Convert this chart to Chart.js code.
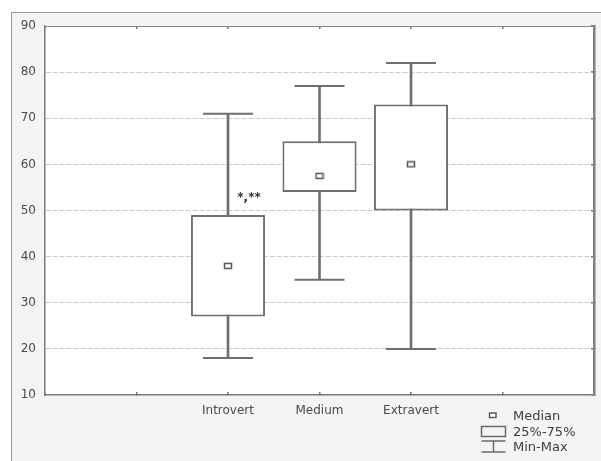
<!DOCTYPE html>
<html>
<head>
<meta charset="utf-8">
<script src="https://cdn.jsdelivr.net/npm/chart.js@4/dist/chart.umd.min.js"></script>
<style>
    body { margin: 0; background: #ffffff; }
    #wrap { position: relative; width: 601px; height: 461px; overflow: hidden; }
    #panel { position: absolute; left: 11px; top: 12px; width: 590px; height: 449px;
             background: #f4f4f4; border-left: 1px solid #9c9c9c; border-top: 1px solid #9c9c9c; }
    #boxChart { position: absolute; left: 0; top: 0; }
    #legendIcons { position: absolute; left: 480px; top: 409px; }
    #legendText { position: absolute; left: 513px; top: 408px; font: 13px "DejaVu Sans", sans-serif;
                  color: #3c3c3c; line-height: 15.5px; }
</style>
</head>
<body>
<div id="wrap">
    <div id="panel"></div>
    <canvas id="boxChart" width="601" height="461"></canvas>
    <svg id="legendIcons" width="28" height="46">
        <rect x="9.5" y="4" width="6.5" height="4.5" fill="#fff" stroke="#555" stroke-width="1.4"></rect>
        <rect x="1.5" y="17.5" width="24" height="10" fill="none" stroke="#6a6a6a" stroke-width="1.5"></rect>
        <line x1="1.5" y1="32" x2="25.5" y2="32" stroke="#6a6a6a" stroke-width="1.5"></line>
        <line x1="13.5" y1="32" x2="13.5" y2="43" stroke="#6a6a6a" stroke-width="1.5"></line>
        <line x1="1.5" y1="43" x2="25.5" y2="43" stroke="#6a6a6a" stroke-width="1.5"></line>
    </svg>
    <div id="legendText">
        <div>Median</div>
        <div>25%-75%</div>
        <div>Min-Max</div>
    </div>
</div>
<script>
// groups shown on the x axis (two empty slots on each side, as in the original)
var categories = ['Introvert', 'Medium', 'Extravert'];
var axisSlots = ['', ''].concat(categories, ['', '']);

// box plot values per group
var minValues = [18, 35, 20];
var q1Values = [27, 54, 50];
var medianValues = [38, 57.5, 60];
var q3Values = [49, 65, 73];
var maxValues = [71, 77, 82];

// y axis
var yMin = 10;
var yMax = 90;
var yStep = 10;

// significance mark near the Introvert box
var noteText = '*,**';
var noteCategory = 'Introvert';
var noteValue = 52;

var lineGray = '#6f6f6f';

// little hollow square used for the median
var medianMark = document.createElement('canvas');
medianMark.width = 10;
medianMark.height = 8;
var mctx = medianMark.getContext('2d');
mctx.fillStyle = '#ffffff';
mctx.fillRect(1.5, 1.5, 7, 5);
mctx.strokeStyle = '#555555';
mctx.lineWidth = 1.5;
mctx.strokeRect(1.5, 1.5, 7, 5);

var plotBackground = {
    id: 'plotBackground',
    beforeDraw: function(chart) {
        var a = chart.chartArea;
        var ctx = chart.ctx;
        ctx.save();
        ctx.fillStyle = '#ffffff';
        ctx.fillRect(a.left, a.top, a.right - a.left, a.bottom - a.top);
        ctx.restore();
    }
};

var noteLabel = {
    id: 'noteLabel',
    afterDatasetsDraw: function(chart) {
        var ctx = chart.ctx;
        var x = chart.scales.x.getPixelForValue(axisSlots.indexOf(noteCategory)) + 21;
        var y = chart.scales.y.getPixelForValue(noteValue);
        ctx.save();
        ctx.font = 'bold 12px "DejaVu Sans", sans-serif';
        ctx.fillStyle = '#333333';
        ctx.textAlign = 'center';
        ctx.textBaseline = 'alphabetic';
        ctx.fillText(noteText, x, y);
        ctx.restore();
    }
};

var boxData = categories.map(function(c, i) { return { x: c, y: [q1Values[i], q3Values[i]] }; });
var whiskerData = categories.map(function(c, i) { return { x: c, y: [minValues[i], maxValues[i]] }; });
var medianData = categories.map(function(c, i) { return { x: c, y: medianValues[i] }; });
var capData = [];
categories.forEach(function(c, i) {
    capData.push({ x: c, y: minValues[i] });
    capData.push({ x: c, y: maxValues[i] });
});

var tickFont = { family: '"DejaVu Sans", sans-serif', size: 12 };

var ctx = document.getElementById('boxChart').getContext('2d');
var chart = new Chart(ctx, {
    type: 'bar',
    data: {
        labels: axisSlots,
        datasets: [
            {
                type: 'line',
                label: 'Median',
                data: medianData,
                showLine: false,
                pointStyle: medianMark,
                pointRadius: 4,
                pointHoverRadius: 4
            },
            {
                label: '25%-75%',
                data: boxData,
                grouped: false,
                backgroundColor: '#ffffff',
                borderColor: lineGray,
                borderWidth: 2,
                borderSkipped: false,
                categoryPercentage: 1,
                barPercentage: 0.81
            },
            {
                label: 'Min-Max',
                data: whiskerData,
                grouped: false,
                backgroundColor: lineGray,
                borderWidth: 0,
                barThickness: 2
            },
            {
                type: 'line',
                label: 'caps',
                data: capData,
                showLine: false,
                pointStyle: 'line',
                pointRadius: 25,
                pointHoverRadius: 25,
                pointBorderWidth: 2,
                pointBorderColor: lineGray
            }
        ]
    },
    options: {
        responsive: false,
        animation: false,
        events: [],
        layout: { autoPadding: false, padding: { left: 11, top: 26, right: 7, bottom: 42 } },
        plugins: {
            legend: { display: false },
            tooltip: { enabled: false }
        },
        scales: {
            x: {
                offset: false,
                grid: { offset: false, drawOnChartArea: false, tickLength: -3, color: '#777777', lineWidth: 1.5 },
                border: { color: '#7a7a7a', width: 1.5 },
                ticks: { font: tickFont, color: '#4a4a4a', padding: 12, maxRotation: 0, autoSkip: false },
                afterFit: function(s) { s.height = 24; s.paddingLeft = 0; s.paddingRight = 0; }
            },
            x2: {
                position: 'top',
                type: 'category',
                labels: axisSlots,
                offset: false,
                grid: { offset: false, drawOnChartArea: false, tickLength: -3, color: '#777777', lineWidth: 1.5 },
                border: { color: '#8a8a8a', width: 1 },
                ticks: { display: false },
                afterFit: function(s) { s.height = 0; }
            },
            y: {
                min: yMin,
                max: yMax,
                ticks: { stepSize: yStep, font: tickFont, color: '#4a4a4a', padding: 9 },
                grid: {
                    drawTicks: false,
                    color: function(c) {
                        return (c.tick.value === yMin || c.tick.value === yMax) ? 'rgba(0,0,0,0)' : '#cacaca';
                    },
                    lineWidth: 1
                },
                border: { color: '#7a7a7a', width: 1.5, dash: [5, 2] },
                afterFit: function(s) { s.width = 34; }
            },
            y2: {
                position: 'right',
                min: yMin,
                max: yMax,
                ticks: { display: false, stepSize: yStep },
                grid: { drawOnChartArea: false, tickLength: -3, color: '#777777', lineWidth: 1.5 },
                border: { color: '#808080', width: 2.5 },
                afterFit: function(s) { s.width = 0; }
            }
        }
    },
    plugins: [plotBackground, noteLabel]
});
</script>
</body>
</html>
